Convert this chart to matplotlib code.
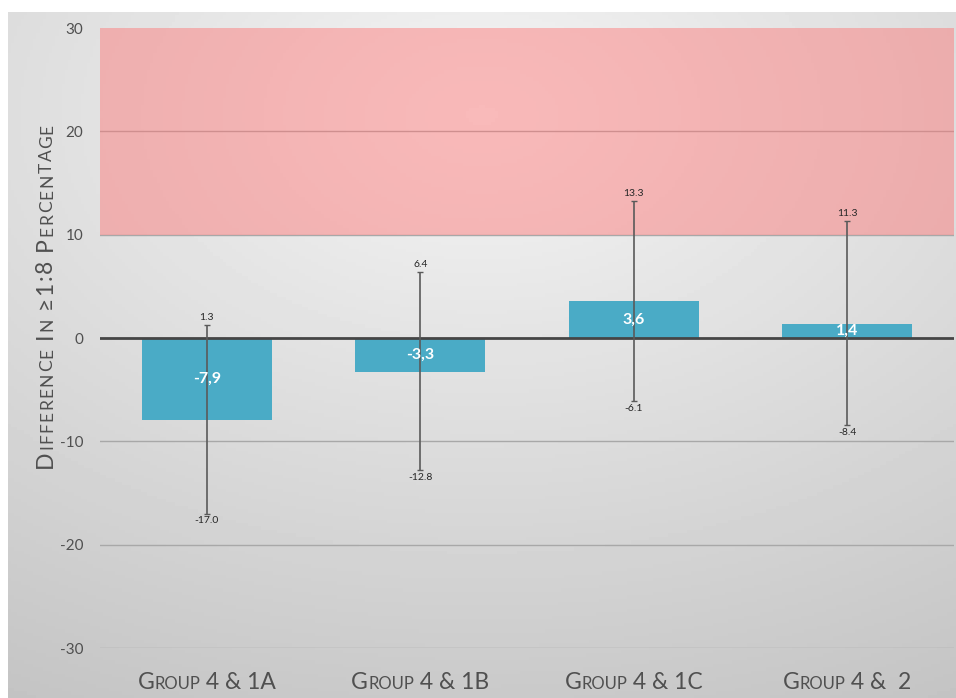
import numpy as np
import matplotlib
matplotlib.use('Agg')
import matplotlib.pyplot as plt
from matplotlib import transforms

plt.rcParams['font.family'] = ['Lato', 'DejaVu Sans']
plt.rcParams['axes.unicode_minus'] = False

groups = ['Group 4 & 1A', 'Group 4 & 1B', 'Group 4 & 1C', 'Group 4 &  2']
diff = np.array([-7.9, -3.3, 3.6, 1.4])
ci_low = np.array([-17.0, -12.8, -6.1, -8.4])
ci_high = np.array([1.3, 6.4, 13.3, 11.3])
zone_low, zone_high = 10, 30
yticks = [-30, -20, -10, 0, 10, 20, 30]
text_grey = '#505050'

fig = plt.figure(figsize=(9.56, 6.98), dpi=100)
renderer = fig.canvas.get_renderer()

# soft grey backdrop, lighter towards the top middle
bg = fig.add_axes([8 / 956, 0, 948 / 956, 686 / 698], zorder=-10)
bg.axis('off')
yy, xx = np.mgrid[0:1:200j, 0:1:300j]
d = np.sqrt(((xx - 0.5) / 1.1) ** 2 + ((yy - 0.15) / 1.0) ** 2)
shade = np.clip(0.96 - 0.2 * d, 0, 1)
bg.imshow(shade, cmap='gray', vmin=0, vmax=1, extent=[0, 1, 0, 1], aspect='auto')

ax = fig.add_axes([100 / 956, 1 - 648 / 698, 854 / 956, 620 / 698])
ax.set_facecolor('none')
x = np.arange(len(groups))
ax.set_xlim(-0.5, len(groups) - 0.5)
ax.set_ylim(-30, 30)

ax.axhspan(zone_low, zone_high, color='#ff7272', alpha=0.45, lw=0, zorder=1)
ax.set_yticks(yticks)
for t in yticks:
    if t not in (0, zone_high):
        ax.axhline(t, color='#a8a8a8', lw=1, zorder=0.5)
ax.axhline(0, color='#454545', lw=2, zorder=3)

bars = ax.bar(x, diff, width=0.61, color='#4aabc6', zorder=2)
vals = ax.bar_label(bars, labels=[f'{v:.1f}'.replace('.', ',') for v in diff],
                    label_type='center', color='white', fontsize=11.5,
                    fontweight='bold')
for t in vals:
    t.set_zorder(5)

ax.errorbar(x, diff, yerr=[diff - ci_low, ci_high - diff], fmt='none',
            ecolor='#5a5a5a', elinewidth=1.2, capsize=2.2, capthick=1, zorder=4)
for xi, lo, hi in zip(x, ci_low, ci_high):
    ax.annotate(f'{hi:.1f}', (xi, hi), xytext=(0, 2), textcoords='offset points',
                ha='center', va='bottom', fontsize=7.5, color='#262626')
    ax.annotate(f'{lo:.1f}', (xi, lo), xytext=(0, -2), textcoords='offset points',
                ha='center', va='top', fontsize=7.5, color='#262626')

for s in ax.spines.values():
    s.set_visible(False)
ax.tick_params(length=0, labelsize=11, labelcolor=text_grey, pad=12)
ax.set_xticks(x)
ax.set_xticklabels([])


def text_width(run, size):
    t = fig.text(0, 0, '|' + run + '|', fontsize=size)
    w = t.get_window_extent(renderer).width
    t.set_text('||')
    w -= t.get_window_extent(renderer).width
    t.remove()
    return w


def caps_runs(s, big, small, split=False):
    runs = []
    for ch in s:
        size = small if ch.islower() else big
        ch = ch.upper()
        if runs and runs[-1][1] == size and not split:
            runs[-1][0] += ch
        else:
            runs.append([ch, size])
    return runs


def small_caps(s, x0, y0, trans, big, small, vertical=False, tracking=0.0):
    # fake small caps: lower-case letters become smaller capitals
    runs = caps_runs(s, big, small, split=tracking > 0)
    widths = [text_width(r, sz) + tracking for r, sz in runs]
    pos = -(sum(widths) - tracking) / 2
    for (r, sz), w in zip(runs, widths):
        dx, dy = (0, pos) if vertical else (pos, 0)
        tr = transforms.offset_copy(trans, fig=fig, x=dx, y=dy, units='dots')
        fig.text(x0, y0, r, fontsize=sz, color=text_grey, transform=tr,
                 ha='left', va='baseline', rotation=90 if vertical else 0,
                 rotation_mode='anchor')
        pos += w


xtrans = transforms.blended_transform_factory(ax.transData, fig.transFigure)
for xi, g in zip(x, groups):
    small_caps(g, xi, 1 - 689 / 698, xtrans, 16.5, 12)

small_caps('Difference In \u22651:8 Percentage', 52 / 956, 1 - 296 / 698,
           fig.transFigure, 16.5, 12.5, vertical=True, tracking=1.4)

fig.savefig('out.png', dpi=100)
